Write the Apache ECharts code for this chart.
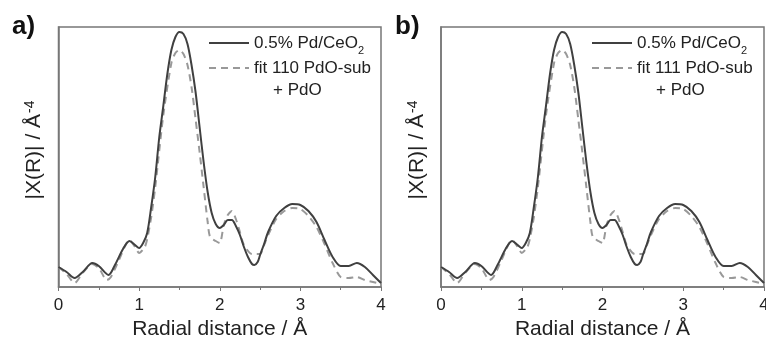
<!DOCTYPE html>
<html>
<head>
<meta charset="utf-8">
<script src="https://cdn.jsdelivr.net/npm/echarts@6/dist/echarts.min.js"></script>
<style>html,body{margin:0;padding:0;background:#fff;}#c{width:766px;height:341px;}</style>
</head>
<body>
<div id="c"></div>
<script>
// Radial distance (Å) and |X(R)| (arbitrary units)
const rExp = [0, 0.1, 0.2, 0.3, 0.42, 0.5, 0.62, 0.7, 0.8, 0.88, 0.95, 1.0, 1.05, 1.1, 1.15, 1.2, 1.25, 1.3, 1.35, 1.4, 1.45, 1.5, 1.55, 1.6, 1.65, 1.7, 1.75, 1.8, 1.85, 1.9, 1.95, 2.0, 2.05, 2.1, 2.15, 2.2, 2.25, 2.3, 2.35, 2.4, 2.43, 2.47, 2.5, 2.55, 2.6, 2.7, 2.8, 2.9, 3.0, 3.1, 3.2, 3.3, 3.4, 3.5, 3.6, 3.7, 3.8, 3.9, 4.0];
const expA = [20, 15, 9, 15, 24, 21, 12, 22, 38, 46, 42, 39, 44, 54, 80, 110, 150, 181, 213, 237, 250, 255, 253, 243, 222, 195, 160, 125, 95, 74, 63, 59, 62, 67, 67, 61, 52, 40, 30, 23, 22, 25, 32, 43, 55, 71, 79, 83, 82, 76, 65, 47, 30, 21, 21, 24, 20, 12, 4];
const rFit = [0, 0.1, 0.2, 0.3, 0.42, 0.5, 0.6, 0.65, 0.75, 0.88, 0.95, 1.0, 1.07, 1.1, 1.15, 1.2, 1.3, 1.4, 1.45, 1.5, 1.55, 1.6, 1.65, 1.7, 1.75, 1.8, 1.85, 1.88, 1.95, 2.0, 2.05, 2.1, 2.15, 2.2, 2.25, 2.3, 2.4, 2.5, 2.55, 2.6, 2.7, 2.8, 2.9, 3.0, 3.1, 3.2, 3.3, 3.4, 3.5, 3.6, 3.7, 3.8, 3.9, 4.0];
const fitA = [20, 13, 4, 14, 23, 19, 7, 10, 27, 47, 40, 34, 40, 48, 70, 100, 172, 224, 234, 237, 233, 222, 200, 168, 135, 100, 65, 50, 46, 44, 62, 72, 76, 68, 55, 42, 33, 33, 42, 52, 68, 76, 79, 78, 71, 60, 43, 24, 10, 9, 10, 7, 5, 3];
const expB = expA;
const fitB = fitA;
const xTicks = [0, 1, 2, 3, 4];
const panelLabels = ['a)', 'b)'];
const expName = '0.5% Pd/CeO2';
const fitNames = ['fit 110 PdO-sub + PdO', 'fit 111 PdO-sub + PdO'];
const fitLabels = ['fit 110 PdO-sub', 'fit 111 PdO-sub'];

const FONT = 'Liberation Sans, Arial, sans-serif';
const TXT = '#222';
const AX = '#777';

function pairs(xs, ys) { return xs.map((x, i) => [x, ys[i]]); }

const grids = [
  { left: 58.5, top: 27, width: 322.5, height: 260 },
  { left: 441, top: 27, width: 323, height: 260 }
];
const legendLeft = [208, 591];
const hiddenSymbol = { opacity: 0, color: 'rgba(0,0,0,0)', borderWidth: 0 };

const option = {
  animation: false,
  backgroundColor: '#fff',
  title: panelLabels.map((t, i) => ({
    text: t, left: i === 0 ? 12 : 395, top: 14, padding: 0,
    textStyle: { fontSize: 26, fontWeight: 'bold', color: '#111', fontFamily: FONT }
  })),
  grid: grids.map(g => Object.assign({ show: true, borderColor: AX, borderWidth: 1.5, backgroundColor: 'transparent',
    containLabel: false, outerBoundsMode: 'none' }, g)),
  xAxis: grids.map((g, i) => ({
    type: 'value', gridIndex: i, min: 0, max: 4, interval: 1,
    name: 'Radial distance / Å', nameLocation: 'middle', nameGap: 32,
    nameTextStyle: { fontSize: 21, color: TXT, fontFamily: FONT },
    axisLine: { show: true, lineStyle: { color: AX, width: 1.5 } },
    axisTick: { show: true, length: 4, lineStyle: { color: AX, width: 1 } },
    minorTick: { show: true, splitNumber: 2, length: 3, lineStyle: { color: AX, width: 1 } },
    splitLine: { show: false },
    axisLabel: { fontSize: 17, color: TXT, margin: 10, fontFamily: FONT,
      formatter: v => (xTicks.indexOf(v) >= 0 ? String(v) : '') }
  })),
  yAxis: grids.map((g, i) => ({
    type: 'value', gridIndex: i, min: 0, max: 260,
    name: '|X(R)| / Å{sup|-4}', nameLocation: 'middle', nameGap: 13,
    nameTextStyle: { fontSize: 21, color: TXT, fontFamily: FONT, padding: [0, 0, 0, 14],
      rich: { sup: { fontSize: 14, color: TXT, fontFamily: FONT, verticalAlign: 'top', padding: [0, 0, 8, 1] } } },
    axisLine: { show: true, lineStyle: { color: AX, width: 1.5 } },
    axisTick: { show: false }, axisLabel: { show: false }, splitLine: { show: false }
  })),
  legend: [
    ...[0, 1].map(i => ({
      left: legendLeft[i], top: 32, padding: 0, orient: 'vertical', selectedMode: false,
      itemWidth: 40, itemHeight: 14, data: [expName], itemStyle: hiddenSymbol,
      formatter: () => '0.5% Pd/CeO{sub|2}',
      textStyle: { fontSize: 17, color: TXT, fontFamily: FONT, lineHeight: 22,
        rich: { sub: { fontSize: 11, color: TXT, fontFamily: FONT, verticalAlign: 'bottom', lineHeight: 22, padding: [0, 0, -2, 0] } } }
    })),
    ...[0, 1].map(i => ({
      left: legendLeft[i], top: 35, padding: 0, orient: 'vertical', selectedMode: false,
      itemWidth: 40, itemHeight: 14, data: [fitNames[i]], itemStyle: hiddenSymbol,
      formatter: () => '{pad| }\n{t|' + fitLabels[i] + '}\n{p|+ PdO}',
      textStyle: { fontSize: 17, color: TXT, fontFamily: FONT, lineHeight: 22,
        rich: {
          pad: { fontSize: 17, lineHeight: 22 },
          t: { fontSize: 17, lineHeight: 22, color: TXT, fontFamily: FONT },
          p: { fontSize: 17, lineHeight: 22, color: TXT, fontFamily: FONT, padding: [0, 0, 0, 19] }
        } }
    }))
  ],
  series: [
    { name: expName, type: 'line', xAxisIndex: 0, yAxisIndex: 0, data: pairs(rExp, expA),
      smooth: 0.3, symbol: 'none', lineStyle: { color: '#404040', width: 2 }, itemStyle: { color: '#404040' }, z: 3 },
    { name: fitNames[0], type: 'line', xAxisIndex: 0, yAxisIndex: 0, data: pairs(rFit, fitA),
      smooth: 0.25, symbol: 'none', lineStyle: { color: '#999', width: 2, type: [7, 5] }, itemStyle: { color: '#999' }, z: 2 },
    { name: expName, type: 'line', xAxisIndex: 1, yAxisIndex: 1, data: pairs(rExp, expB),
      smooth: 0.3, symbol: 'none', lineStyle: { color: '#404040', width: 2 }, itemStyle: { color: '#404040' }, z: 3 },
    { name: fitNames[1], type: 'line', xAxisIndex: 1, yAxisIndex: 1, data: pairs(rFit, fitB),
      smooth: 0.25, symbol: 'none', lineStyle: { color: '#999', width: 2, type: [7, 5] }, itemStyle: { color: '#999' }, z: 2 }
  ]
};

const chart = echarts.init(document.getElementById('c'), null, { renderer: 'canvas' });
chart.setOption(option);
</script>
</body>
</html>
